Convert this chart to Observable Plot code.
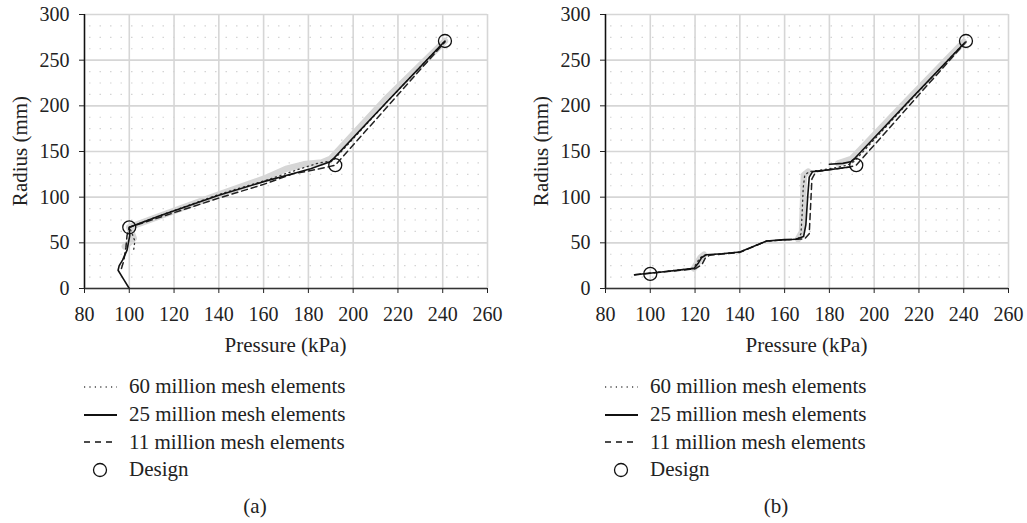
<!DOCTYPE html>
<html><head><meta charset="utf-8">
<script src="https://cdn.jsdelivr.net/npm/d3@7"></script>
<script src="https://cdn.jsdelivr.net/npm/@observablehq/plot@0.6"></script>
<style>
body{margin:0;background:#fff;font-family:"Liberation Serif",serif;}
#root{position:relative;width:1027px;height:523px;overflow:hidden;background:#fff;}
.panel{position:absolute;top:0;width:513px;height:523px;}
.legend{position:absolute;left:84px;top:373px;font-size:21px;color:#222;}
.row{height:27.7px;display:flex;align-items:center;white-space:nowrap;}
.row svg{width:45px;height:20px;flex:none;}
.cap{position:absolute;top:494px;left:0;width:510px;text-align:center;font-size:21px;color:#222;}
.xl{position:absolute;left:185px;width:201px;top:332px;text-align:center;font-size:21px;color:#222;line-height:26px;}
.yl{position:absolute;left:-80px;width:200px;top:138px;text-align:center;font-size:21px;color:#222;line-height:26px;transform:rotate(-90deg);transform-origin:100px 13px;}
</style></head>
<body><div id="root"></div>
<script>
// ---- tick labels ----
const xTicks = [80, 100, 120, 140, 160, 180, 200, 220, 240, 260];
const yTicks = [0, 50, 100, 150, 200, 250, 300];
const minorY = [12.5, 25, 37.5, 62.5, 75, 87.5, 112.5, 125, 137.5, 162.5, 175, 187.5, 212.5, 225, 237.5, 262.5, 275, 287.5];
const xLabel = "Pressure (kPa)";
const yLabel = "Radius (mm)";
const seriesNames = ["60 million mesh elements", "25 million mesh elements", "11 million mesh elements", "Design"];

// ---- panel (a) ----
const aDesignP = [100, 192, 241];
const aDesignR = [67, 135, 271];
const a25P = [100, 97.5, 95, 95.5, 97, 99, 100.2, 100, 114, 140, 160, 175, 181, 190, 203, 220, 241];
const a25R = [0, 10, 20, 25, 31, 42, 58, 67, 80, 102, 117, 127, 131, 139, 173, 217, 271];
const a60P = [102, 102.5, 101, 100, 115, 140, 163, 175, 184, 191, 215, 241];
const a60R = [43, 52, 62, 67, 81, 103, 120, 130, 137, 140, 204, 271];
const a11P = [96.5, 97.5, 98.5, 99, 100, 115, 140, 160, 173, 185, 192, 241];
const a11R = [22, 30, 45, 58, 67, 79, 99, 114, 125.5, 131, 135, 270];
const aBandP = [98, 100, 102, 101, 100, 120, 140, 160, 170, 178, 186, 190, 214, 241];
const aBandR = [46, 50, 55, 61, 67, 85, 103, 120, 131, 136, 138, 142, 206, 271];

// ---- panel (b) ----
const bDesignP = [100, 192, 241];
const bDesignR = [16, 135, 271];
const b25aP = [93, 105, 119.5, 121.5, 123, 125, 132, 140, 146, 152, 160, 165, 168.5, 169.5, 170.3, 171, 172.5, 180, 189];
const b25aR = [15, 18, 22, 28, 34, 37, 38, 40, 46, 52, 53.5, 54, 57, 70, 100, 122, 128, 130, 133];
const b25bP = [180, 186, 190, 215, 240];
const b25bR = [136, 137, 139, 204, 268];
const b60P = [93, 119, 120.5, 122, 124, 130, 140, 152, 166, 167.3, 167.8, 168.3, 169, 171, 180, 188, 191, 215, 241];
const b60R = [15, 22, 27, 33, 36.5, 37.5, 40, 52, 54, 60, 80, 110, 124, 128, 131, 135, 139, 203, 271];
const b11P = [93, 120, 123, 124.5, 126.5, 140, 152, 169, 171, 171.6, 172.2, 174, 189, 192, 241];
const b11R = [15, 21.5, 26, 33, 36.5, 39.5, 52, 54.5, 60, 90, 120, 128, 133, 135, 270];
const bBand1P = [119.5, 121, 122.5, 124];
const bBand1R = [22, 28, 34, 37];
const bBand2P = [166, 167.8, 168.3, 168.6, 170.5];
const bBand2R = [54, 62, 100, 124, 128];
const bBand3P = [184, 190, 214, 240];
const bBand3R = [137, 142, 204, 270];

const pts = (P, R) => P.map((p, i) => ({p, r: R[i]}));

function makePlot(d) {
  const line = (data, o) => Plot.line(data, {x: "p", y: "r", strokeLinejoin: "round", ...o});
  return Plot.plot({
    width: 513, height: 360,
    marginLeft: 84, marginRight: 26, marginTop: 14, marginBottom: 72,
    style: {fontFamily: "'Liberation Serif', serif", fontSize: "20px", color: "#222", background: "transparent", overflow: "visible"},
    x: {domain: [80, 260], label: xLabel},
    y: {domain: [0, 300], label: yLabel},
    marks: [
      Plot.ruleY(minorY, {stroke: "#d4d4d4", strokeWidth: 1.2, strokeDasharray: "1.5,9", strokeDashoffset: -5}),
      Plot.gridX(xTicks, {stroke: "#d6d6d6", strokeOpacity: 1, strokeWidth: 1.6}),
      Plot.gridY(yTicks, {stroke: "#d6d6d6", strokeOpacity: 1, strokeWidth: 1.6}),
      ...d.bands.map(b => line(b, {stroke: "#d6d6d6", strokeWidth: 6.5, strokeLinecap: "round"})),
      line(d.l60, {stroke: "#333", strokeWidth: 1.3, strokeDasharray: "1.2,3.6"}),
      line(d.l11, {stroke: "#222", strokeWidth: 1.5, strokeDasharray: "6,4"}),
      ...d.l25.map(s => line(s, {stroke: "#111", strokeWidth: 1.6})),
      Plot.dot(d.design, {x: "p", y: "r", r: 6.5, stroke: "#111", fill: "none", strokeWidth: 1.3}),
      Plot.ruleX([80], {stroke: "#111", strokeWidth: 1.5}),
      Plot.ruleY([0], {stroke: "#333", strokeWidth: 1.5}),
      Plot.axisX({ticks: xTicks, tickSize: 5, tickPadding: 13, tickFormat: d => String(d), label: null}),
      Plot.axisY({ticks: yTicks, tickSize: 5, tickPadding: 10, tickFormat: d => String(d), label: null})
    ]
  });
}

function legendRow(kind) {
  const ns = "http://www.w3.org/2000/svg";
  const svg = document.createElementNS(ns, "svg");
  svg.setAttribute("viewBox", "0 0 45 20");
  let el;
  if (kind === 3) {
    el = document.createElementNS(ns, "circle");
    el.setAttribute("cx", 16); el.setAttribute("cy", 10); el.setAttribute("r", 6.5);
    el.setAttribute("fill", "none"); el.setAttribute("stroke", "#111"); el.setAttribute("stroke-width", 1.3);
  } else {
    el = document.createElementNS(ns, "line");
    el.setAttribute("x1", 0); el.setAttribute("x2", 33); el.setAttribute("y1", 10); el.setAttribute("y2", 10);
    el.setAttribute("stroke", kind === 0 ? "#444" : "#111");
    el.setAttribute("stroke-width", kind === 1 ? 2.2 : 1.6);
    if (kind === 0) el.setAttribute("stroke-dasharray", "1.2,4.2");
    if (kind === 2) el.setAttribute("stroke-dasharray", "6,5");
  }
  svg.appendChild(el);
  return svg;
}

function addPanel(left, d, cap) {
  const div = document.createElement("div");
  div.className = "panel"; div.style.left = left + "px";
  div.appendChild(makePlot(d));
  const xl = document.createElement("div"); xl.className = "xl"; xl.textContent = xLabel; div.appendChild(xl);
  const yl = document.createElement("div"); yl.className = "yl"; yl.textContent = yLabel; div.appendChild(yl);
  const lg = document.createElement("div"); lg.className = "legend";
  seriesNames.forEach((n, i) => {
    const row = document.createElement("div"); row.className = "row";
    row.appendChild(legendRow(i));
    const t = document.createElement("span"); t.textContent = n;
    row.appendChild(t); lg.appendChild(row);
  });
  div.appendChild(lg);
  const c = document.createElement("div"); c.className = "cap"; c.textContent = cap;
  div.appendChild(c);
  document.getElementById("root").appendChild(div);
}

addPanel(0, {
  design: pts(aDesignP, aDesignR),
  l25: [pts(a25P, a25R)],
  l60: pts(a60P, a60R),
  l11: pts(a11P, a11R),
  bands: [pts(aBandP, aBandR)]
}, "(a)");

addPanel(521, {
  design: pts(bDesignP, bDesignR),
  l25: [pts(b25aP, b25aR), pts(b25bP, b25bR)],
  l60: pts(b60P, b60R),
  l11: pts(b11P, b11R),
  bands: [pts(bBand1P, bBand1R), pts(bBand2P, bBand2R), pts(bBand3P, bBand3R)]
}, "(b)");
</script></body></html>
